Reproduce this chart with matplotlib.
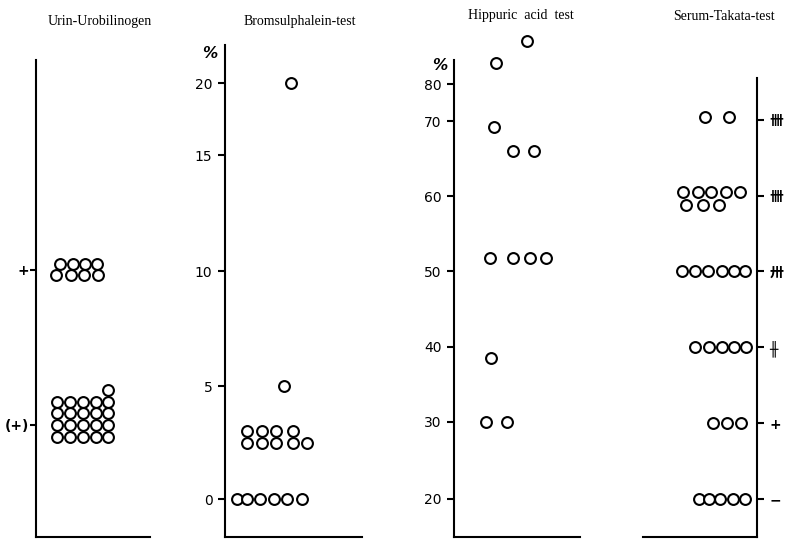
import numpy as np
import matplotlib.pyplot as plt
from matplotlib.scale import FuncScale

# Urin-Urobilinogen (1 = "(+)", 2 = "+"), x = horizontal spread of the dots
uro_x = [24, 37, 49, 61, 20, 35, 48, 62,
         21, 34, 47, 60, 72,
         21, 34, 47, 60, 72,
         21, 34, 47, 60, 72,
         21, 34, 47, 60, 72,
         72]
uro_y = [2.04] * 4 + [1.965] * 4 + [1.15] * 5 + [1.075] * 5 + [1.0] * 5 + [0.925] * 5 + [1.225]
uro_levels = [1, 2]
uro_labels = ['(+)', '+']

# Bromsulphalein-test, %
bsp_x = [66, 59, 22, 37, 51, 68, 22, 37, 51, 68, 82, 12, 22, 35, 49, 62, 77]
bsp_y = [20, 5, 3.0, 3.0, 3.0, 3.0, 2.5, 2.5, 2.5, 2.5, 2.5, 0, 0, 0, 0, 0, 0]
bsp_ticks = [0, 5, 10, 15, 20]
bsp_tick_pos = [0, 113, 228, 344, 416]   # hand-drawn, uneven axis

# Hippuric acid test, %
hip_x = [73, 42, 40, 59, 80, 36, 59, 76, 92, 37, 32, 53]
hip_y = [91.6, 85.7, 69.2, 66, 66, 51.7, 51.7, 51.7, 51.7, 38.5, 30, 30]
hip_ticks = [20, 30, 40, 50, 60, 70, 80]
hip_tick_pos = [0, 77, 152, 228, 303, 378, 415]

# Serum-Takata-test, grades 0..5
tak_x = [62, 86,
         40, 55, 68, 83, 97, 43, 60, 76,
         39, 52, 65, 79, 91, 102,
         52, 66, 79, 91, 103,
         70, 84, 98,
         56, 66, 77, 90, 102]
tak_y = [5.04] * 2 + [4.05] * 5 + [3.88] * 3 + [3] * 6 + [2] * 5 + [1] * 3 + [0] * 5
tak_levels = [0, 1, 2, 3, 4, 5]
tak_labels = ['−', '+', '╫', '卅', '卌', '卌']


def uneven(vals, pos):
    vals = np.asarray(vals, float)
    pos = np.asarray(pos, float)
    def make(a, b):
        def f(v):
            v = np.asarray(v, float)
            out = np.interp(v, a, b)
            lo = b[0] + (v - a[0]) * (b[1] - b[0]) / (a[1] - a[0])
            hi = b[-1] + (v - a[-1]) * (b[-1] - b[-2]) / (a[-1] - a[-2])
            return np.where(v < a[0], lo, np.where(v > a[-1], hi, out))
        return f
    return make(vals, pos), make(pos, vals)


W, H = 791, 539
fig = plt.figure(figsize=(W / 100, H / 100), dpi=100)


def panel(left, width, top):
    return fig.add_axes([left / W, 2 / H, width / W, (537 - top) / H])


mk = dict(ls='none', marker='o', ms=7.8, mfc='white', mec='black', mew=1.5, clip_on=False)
tick_kw = dict(direction='out', length=5, width=1.5, labelsize=10)
num_font = ['Liberation Sans Narrow', 'DejaVu Sans']
title_font = dict(family='Liberation Serif', fontsize=10)

axes = []

# panel 1
ax1 = panel(36, 114, 60)
ax1.plot(uro_x, uro_y, **mk)
ax1.set_xlim(0, 114)
ax1.set_ylim(0.277, 3.355)
ax1.set_yticks(uro_levels, uro_labels, fontweight='bold', fontsize=11)
axes.append(ax1)

# panel 2
ax2 = panel(225, 137, 45)
ax2.set_yscale(FuncScale(ax2.yaxis, uneven(bsp_ticks, bsp_tick_pos)))
ax2.plot(bsp_x, bsp_y, **mk)
ax2.set_xlim(0, 137)
ax2.set_ylim(-1.68, 22.64)
ax2.set_yticks(bsp_ticks, [str(t) for t in bsp_ticks], family=num_font)
ax2.annotate('%', (0, 1), xycoords='axes fraction', xytext=(-11, -6),
             textcoords='offset points', ha='center', va='center',
             fontsize=11, fontweight='bold', style='italic')
axes.append(ax2)

# panel 3
ax3 = panel(454, 126, 60)
ax3.set_yscale(FuncScale(ax3.yaxis, uneven(hip_ticks, hip_tick_pos)))
ax3.plot(hip_x, hip_y, **mk)
ax3.set_xlim(0, 126)
ax3.set_ylim(15.06, 86.5)
ax3.set_yticks(hip_ticks, [str(t) for t in hip_ticks], family=num_font)
ax3.annotate('%', (0, 1), xycoords='axes fraction', xytext=(-10, -4),
             textcoords='offset points', ha='center', va='center',
             fontsize=11, fontweight='bold', style='italic')
axes.append(ax3)

# panel 4
ax4 = panel(643, 114, 78)
ax4.plot(tak_x, tak_y, **mk)
ax4.set_xlim(0, 114)
ax4.set_ylim(-0.5, 5.55)
ax4.yaxis.tick_right()
ax4.set_yticks(tak_levels, tak_labels, family=['DejaVu Sans', 'Noto Sans CJK JP'],
               fontweight='bold', fontsize=10)
axes.append(ax4)

for ax in axes:
    ax.set_xticks([])
    ax.tick_params(axis='y', pad=4, **tick_kw)
    ax.spines['top'].set_visible(False)
    for s in ax.spines.values():
        s.set_linewidth(1.5)
    ax.patch.set_alpha(0)
ax1.tick_params(axis='y', pad=1, length=4)
ax4.spines['left'].set_visible(False)
for ax in axes[:3]:
    ax.spines['right'].set_visible(False)

fig.text(100 / W, 1 - 22 / H, 'Urin-Urobilinogen', ha='center', va='center', **title_font)
fig.text(300 / W, 1 - 22 / H, 'Bromsulphalein-test', ha='center', va='center', **title_font)
fig.text(521 / W, 1 - 16 / H, 'Hippuric  acid  test', ha='center', va='center', **title_font)
fig.text(724 / W, 1 - 16 / H, 'Serum-Takata-test', ha='center', va='center', **title_font)

fig.savefig('out.png', dpi=100)
